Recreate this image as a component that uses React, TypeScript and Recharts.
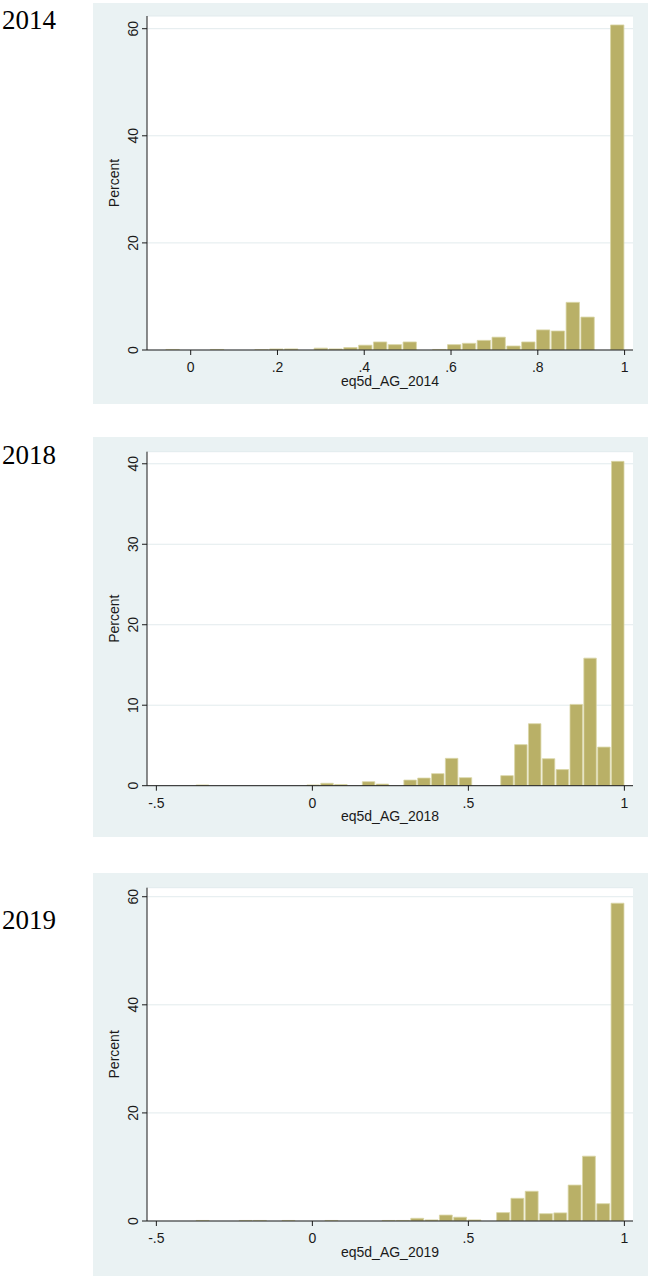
// App.tsx
// Three Stata-style histograms of eq5d_AG (2014 / 2018 / 2019), stacked

import React from 'react';
import { BarChart, Bar, XAxis, YAxis, CartesianGrid } from 'recharts';

// ═══════════════════════════════════════════════════════════════════════════
// DATA (percent per bin, bins of equal width ending at 1)
// ═══════════════════════════════════════════════════════════════════════════

const bins2014 = { min: -0.0594, width: 0.03416 };
const pct2014 = [
  0.1, 0, 0, 0.1, 0, 0, 0.05, 0.2, 0.2, 0, 0.35, 0.2, 0.45, 0.9, 1.5, 1.0,
  1.5, 0, 0.1, 1.0, 1.25, 1.8, 2.4, 0.75, 1.5, 3.75, 3.55, 8.9, 6.15, 0, 60.7,
];
const xTicks2014 = [0, 0.2, 0.4, 0.6, 0.8, 1];
const yTicks2014 = [0, 20, 40, 60];

const bins2018 = { min: -0.3755, width: 0.04437 };
const pct2018 = [
  0.1, 0, 0, 0, 0, 0, 0, 0, 0.1, 0.3, 0.15, 0, 0.5, 0.2, 0, 0.7,
  0.95, 1.5, 3.4, 1.0, 0, 0, 1.25, 5.1, 7.7, 3.35, 2.0, 10.1, 15.85, 4.8, 40.3,
];
const xTicks2018 = [-0.5, 0, 0.5, 1];
const yTicks2018 = [0, 10, 20, 30, 40];

const bins2019 = { min: -0.3755, width: 0.04585 };
const pct2019 = [
  0.1, 0, 0, 0.1, 0.1, 0, 0.1, 0, 0, 0.1, 0, 0, 0, 0.1, 0.1,
  0.5, 0.2, 1.1, 0.7, 0.2, 0, 1.55, 4.2, 5.5, 1.35, 1.5, 6.65, 12.0, 3.2, 58.8,
];
const xTicks2019 = [-0.5, 0, 0.5, 1];
const yTicks2019 = [0, 20, 40, 60];

// ═══════════════════════════════════════════════════════════════════════════
// STYLE
// ═══════════════════════════════════════════════════════════════════════════

const FONT = '"Liberation Sans", Arial, sans-serif';
const SERIF = '"Liberation Serif", "Times New Roman", serif';
const INK = '#1a1a1a';
const BAR_FILL = '#B9B067';
const BAR_EDGE = '#D9D5A6';
const GRID = '#E2EBED';
const PANEL_BG = '#EAF2F3';
const FS = 14;

const PANEL_LEFT = 93;
const CHART_W = 555;
const Y_AXIS_W = 54;
const RIGHT_M = 15;
const PLOT_W = CHART_W - Y_AXIS_W - RIGHT_M;

// Stata prints .2 / -.5 without the leading zero
const fmt = (v: number) => String(v).replace(/^(-?)0\./, '$1.');

function XTick({ x, y, payload }: any) {
  return (
    <text x={x} y={y + 14} textAnchor="middle" fontSize={FS} fontFamily={FONT} fill={INK}>
      {fmt(payload.value)}
    </text>
  );
}

function YTick({ x, y, payload }: any) {
  return (
    <text
      x={x}
      y={y}
      transform={`rotate(-90 ${x} ${y})`}
      textAnchor="middle"
      fontSize={FS}
      fontFamily={FONT}
      fill={INK}
    >
      {fmt(payload.value)}
    </text>
  );
}

interface PanelProps {
  top: number;
  height: number;
  plotTop: number;
  plotH: number;
  year: string;
  yearBaseline: number;
  title: string;
  values: number[];
  bins: { min: number; width: number };
  xDomain: [number, number];
  xTicks: number[];
  yDomain: [number, number];
  yTicks: number[];
}

function HistPanel({
  top, height, plotTop, plotH, year, yearBaseline, title,
  values, bins, xDomain, xTicks, yDomain, yTicks,
}: PanelProps) {
  const data = values.map((pct, i) => ({ x: bins.min + (i + 0.5) * bins.width, pct }));
  const barSize = (bins.width / (xDomain[1] - xDomain[0])) * PLOT_W;
  const xAxisH = height - plotTop - plotH;

  const xTitle = (props: any) => {
    const vb = props.viewBox || { x: Y_AXIS_W, y: plotTop + plotH, width: PLOT_W };
    return (
      <text x={vb.x + vb.width / 2} y={vb.y + 35.5} textAnchor="middle"
        fontSize={FS} fontFamily={FONT} fill={INK}>
        {title}
      </text>
    );
  };

  const yTitle = () => {
    const cx = 26;
    const cy = plotTop + plotH / 2;
    return (
      <text x={cx} y={cy} transform={`rotate(-90 ${cx} ${cy})`} textAnchor="middle"
        fontSize={FS} fontFamily={FONT} fill={INK}>
        Percent
      </text>
    );
  };

  return (
    <>
      <svg
        width={90}
        height={50}
        style={{ position: 'absolute', left: 0, top: yearBaseline - 35 }}
      >
        <text x={2} y={35} fontSize={27} fontFamily={SERIF} fill="#000">
          {year}
        </text>
      </svg>
      <div
        style={{
          position: 'absolute',
          left: PANEL_LEFT,
          top,
          width: CHART_W,
          height,
          background: PANEL_BG,
        }}
      >
        <BarChart
          width={CHART_W}
          height={height}
          data={data}
          margin={{ top: plotTop, right: RIGHT_M, left: 0, bottom: 0 }}
          barCategoryGap={0}
          barGap={0}
        >
          <CartesianGrid vertical={false} stroke={GRID} fill="#ffffff" />
          <XAxis
            type="number"
            dataKey="x"
            domain={xDomain}
            ticks={xTicks}
            interval={0}
            allowDataOverflow
            height={xAxisH}
            tickSize={5}
            tickMargin={3}
            tick={<XTick />}
            axisLine={{ stroke: INK }}
            tickLine={{ stroke: INK }}
            label={{ content: xTitle }}
          />
          <YAxis
            type="number"
            domain={yDomain}
            ticks={yTicks}
            interval={0}
            allowDataOverflow
            width={Y_AXIS_W}
            tickSize={5}
            tickMargin={4}
            tick={<YTick />}
            axisLine={{ stroke: INK }}
            tickLine={{ stroke: INK }}
            label={{ content: yTitle }}
          />
          <Bar
            dataKey="pct"
            fill={BAR_FILL}
            stroke={BAR_EDGE}
            strokeWidth={0.8}
            barSize={barSize}
            isAnimationActive={false}
          />
        </BarChart>
      </div>
    </>
  );
}

export default function App() {
  return (
    <div style={{ position: 'absolute', left: 0, top: 0, width: 649, height: 1279, background: '#fff' }}>
      <HistPanel
        top={3}
        height={401}
        plotTop={13}
        plotH={334}
        year="2014"
        yearBaseline={29}
        title="eq5d_AG_2014"
        values={pct2014}
        bins={bins2014}
        xDomain={[-0.1007, 1.0194]}
        xTicks={xTicks2014}
        yDomain={[0, 62.37]}
        yTicks={yTicks2014}
      />
      <HistPanel
        top={437}
        height={400}
        plotTop={14.7}
        plotH={334}
        year="2018"
        yearBaseline={464}
        title="eq5d_AG_2018"
        values={pct2018}
        bins={bins2018}
        xDomain={[-0.53, 1.0276]}
        xTicks={xTicks2018}
        yDomain={[0, 41.5]}
        yTicks={yTicks2018}
      />
      <HistPanel
        top={873}
        height={403}
        plotTop={14.7}
        plotH={333.3}
        year="2019"
        yearBaseline={929}
        title="eq5d_AG_2019"
        values={pct2019}
        bins={bins2019}
        xDomain={[-0.53, 1.0276]}
        xTicks={xTicks2019}
        yDomain={[0, 61.67]}
        yTicks={yTicks2019}
      />
    </div>
  );
}
